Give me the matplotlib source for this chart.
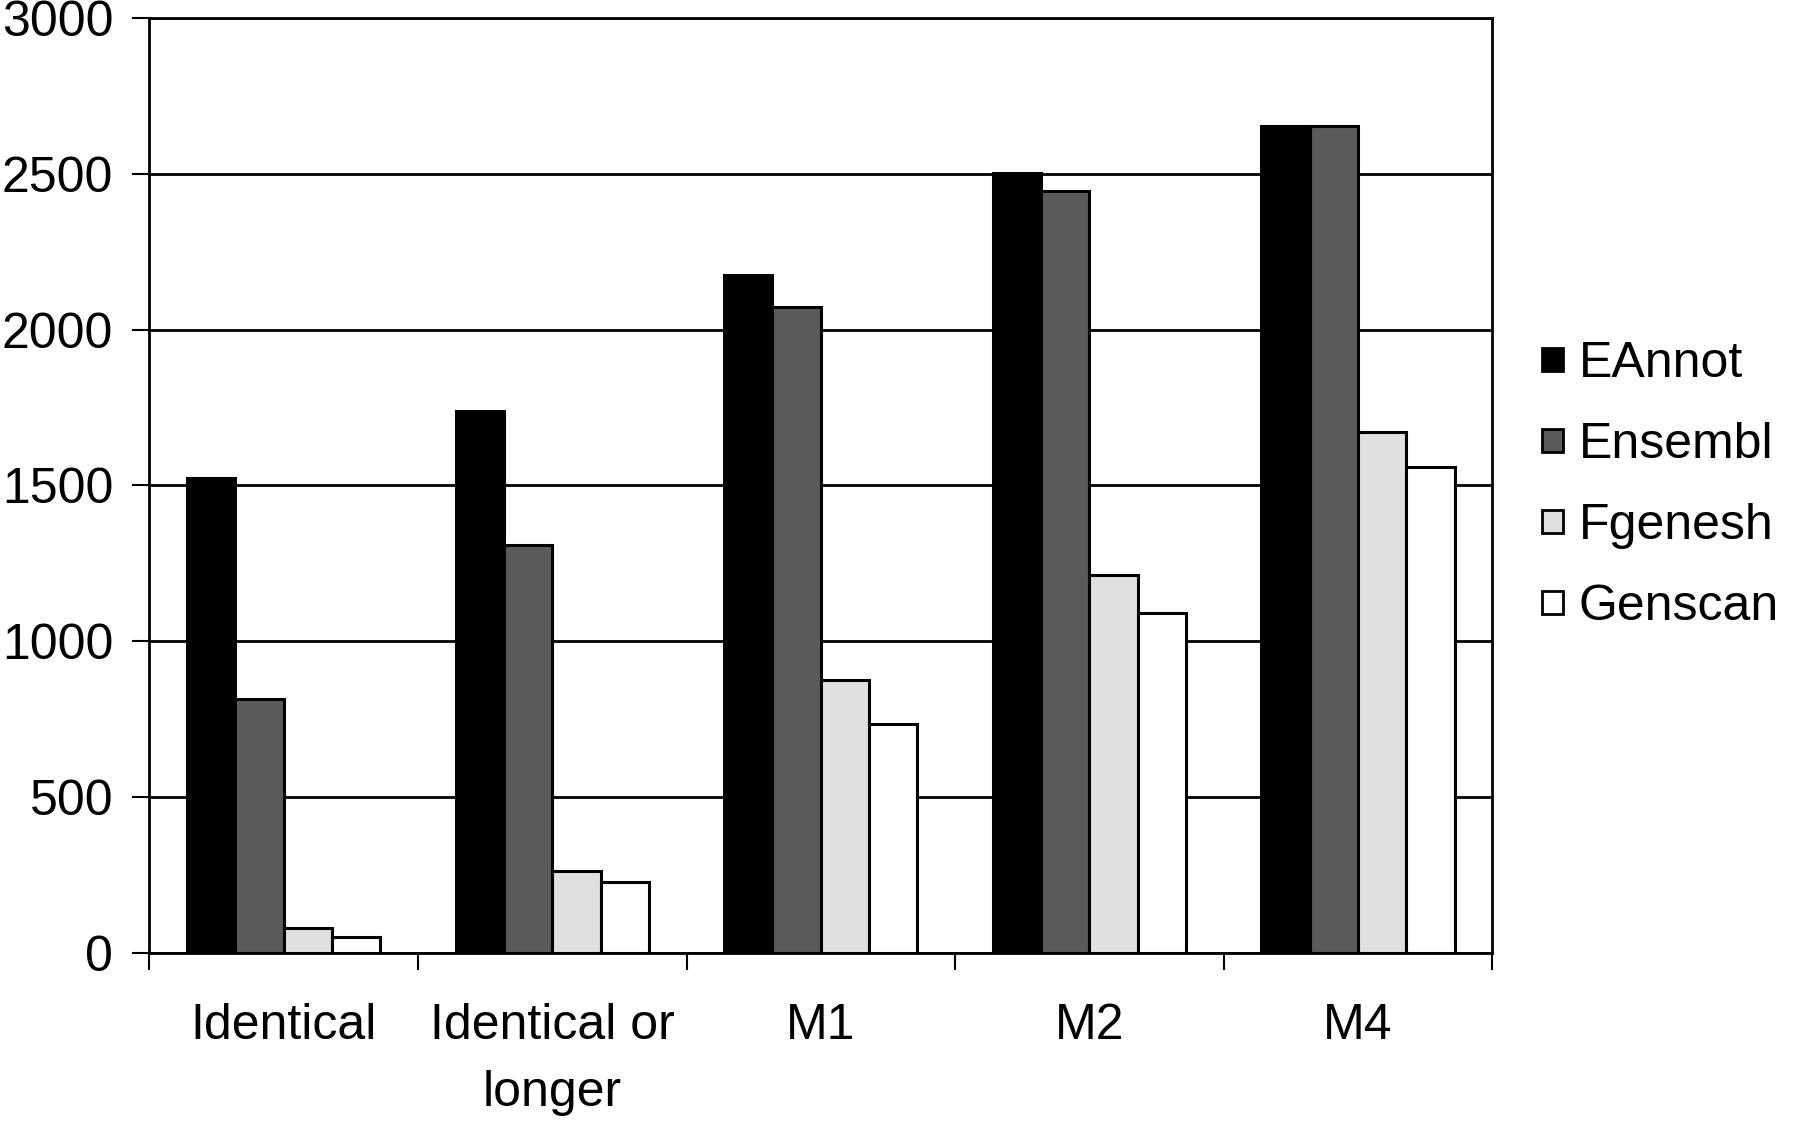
import numpy as np
import matplotlib
matplotlib.use("Agg")
import matplotlib.pyplot as plt
from matplotlib.patches import Patch

plt.rcParams['font.family'] = ['Liberation Sans', 'DejaVu Sans']

# Data
categories = ["Identical", "Identical or\nlonger", "M1", "M2", "M4"]
series = ["EAnnot", "Ensembl", "Fgenesh", "Genscan"]
eannot = [1525, 1740, 2175, 2503, 2655]
ensembl = [815, 1310, 2072, 2444, 2655]
fgenesh = [78, 261, 874, 1212, 1670]
genscan = [49, 227, 735, 1090, 1560]
values = [eannot, ensembl, fgenesh, genscan]
colors = ["#000000", "#5a5a5a", "#e0e0e0", "#ffffff"]

fig = plt.figure(figsize=(18, 11.3), dpi=100)
ax = fig.add_axes([0.083, 0.157, 0.746, 0.827])

x = np.arange(len(categories))
width = 0.18
for i, (vals, col) in enumerate(zip(values, colors)):
    ax.bar(x + (i - 1.5) * width, vals, width, color=col, edgecolor="black",
           linewidth=2.2, label=series[i], zorder=3)

ax.set_xlim(-0.5, len(categories) - 0.5)
ax.set_ylim(0, 3000)
ax.set_yticks(np.arange(0, 3001, 500))
ax.yaxis.grid(True, color="black", linewidth=2.0, zorder=0)
ax.set_axisbelow(True)

# category boundaries get the tick marks, labels sit in between
ax.set_xticks(np.arange(-0.5, len(categories), 1.0))
ax.set_xticklabels([])
ax.set_xticks(x, minor=True)
ax.set_xticklabels(categories, minor=True, fontsize=36, linespacing=1.6)
ax.tick_params(axis="x", which="major", length=12, width=1.5, direction="out")
ax.tick_params(axis="x", which="minor", length=0, pad=36)
ax.tick_params(axis="y", length=12, width=1.5, pad=14, labelsize=36)

for sp in ax.spines.values():
    sp.set_linewidth(2.0)

handles = [Patch(facecolor=c, edgecolor="black", linewidth=2.0) for c in colors]
fig.legend(handles, series, loc="center left", bbox_to_anchor=(0.843, 0.57),
           frameon=False, fontsize=36, handlelength=0.42, handleheight=0.36,
           handletextpad=0.3, labelspacing=0.7, borderpad=0)

fig.savefig("out.png", dpi=100)
